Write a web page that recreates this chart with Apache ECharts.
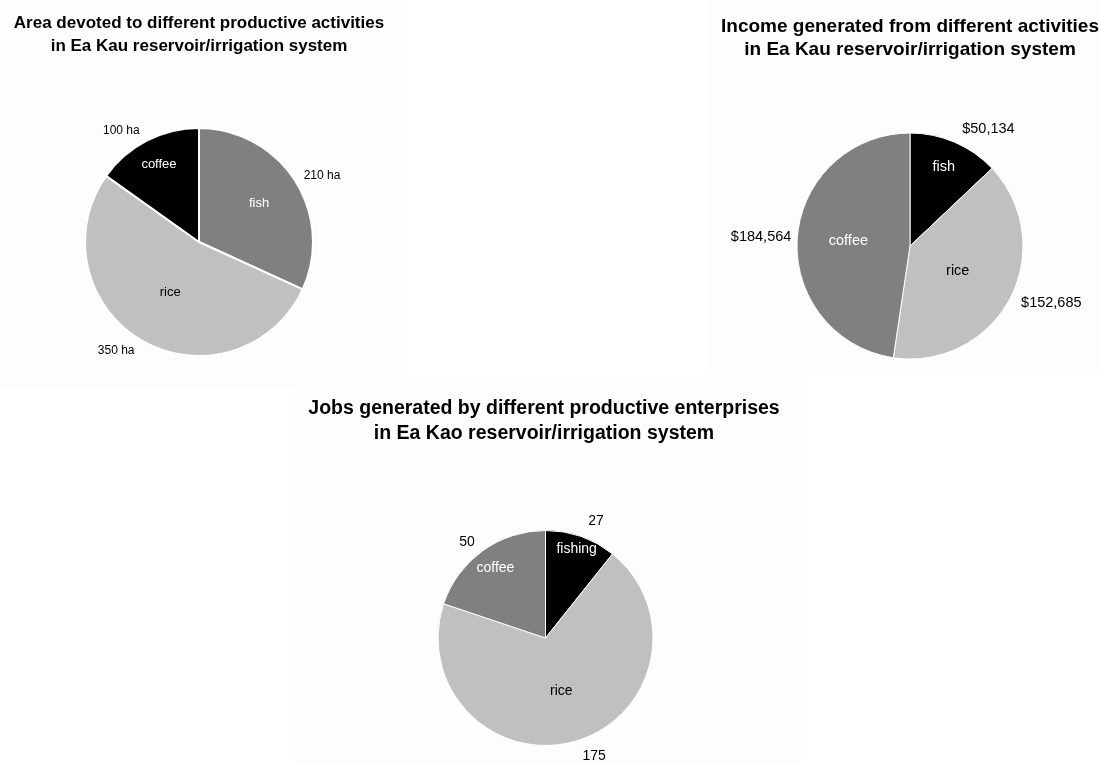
<!DOCTYPE html>
<html>
<head>
<meta charset="utf-8">
<script src="https://cdn.jsdelivr.net/npm/echarts@6/dist/echarts.min.js"></script>
<style>
  html, body { margin: 0; padding: 0; background: #fff; }
  #chart { width: 1099px; height: 764px; }
</style>
</head>
<body>
<div id="chart"></div>
<script>
// Area under each activity (hectares)
const areaCategories = ['fish', 'rice', 'coffee'];
const areaValues = [210, 350, 100];

// Income from each activity (US$)
const incomeCategories = ['fish', 'rice', 'coffee'];
const incomeValues = [50134, 152685, 184564];

// Jobs generated by each enterprise
const jobsCategories = ['fishing', 'rice', 'coffee'];
const jobsValues = [27, 175, 50];

// Slice fills and inner text colours per panel
const areaColors = ['#808080', '#c0c0c0', '#000000'];
const incomeColors = ['#000000', '#c0c0c0', '#808080'];
const jobsColors = ['#000000', '#c0c0c0', '#808080'];
const areaInnerText = ['#ffffff', '#000000', '#ffffff'];
const incomeInnerText = ['#ffffff', '#000000', '#ffffff'];
const jobsInnerText = ['#ffffff', '#000000', '#ffffff'];

// Label placement: gap between rim and value label, and how far out (share of radius) each name sits
const areaLabelGap = [8, 11, 11];
const incomeLabelGap = [14, 10, 4];
const jobsLabelGap = [16, 16, 10];
const areaNameDepth = [0.6, 0.48, 0.74];
const incomeNameDepth = [0.73, 0.45, 0.52];
const jobsNameDepth = [0.85, 0.49, 0.77];

const FONT = '"Liberation Sans", Arial, sans-serif';

// Main pie with outside value labels
function valuePie(names, values, colors, gaps, center, radius, border, fmt, fontSize) {
  return {
    type: 'pie',
    center: center,
    radius: [0, radius],
    startAngle: 90,
    clockwise: true,
    avoidLabelOverlap: false,
    silent: true,
    data: names.map((n, i) => ({
      name: n,
      value: values[i],
      itemStyle: { color: colors[i] },
      labelLine: { show: false, length: gaps[i], length2: 0 }
    })),
    itemStyle: { borderColor: '#ffffff', borderWidth: border },
    label: {
      show: true,
      position: 'outside',
      formatter: p => fmt(p.value),
      color: '#000',
      fontFamily: FONT,
      fontSize: fontSize,
      distanceToLabelLine: 2
    },
    labelLine: { show: false, length: 10, length2: 0 },
    emphasis: { disabled: true }
  };
}

// Transparent overlay pies carrying the category names inside the slices;
// one overlay per slice so each name can sit at its own depth
function namePies(names, values, textColors, depths, center, radius, fontSize) {
  return names.map((_, k) => ({
    type: 'pie',
    center: center,
    radius: [0, 2 * depths[k] * radius],
    startAngle: 90,
    clockwise: true,
    silent: true,
    z: 3,
    data: names.map((n, i) => ({
      name: n,
      value: values[i],
      label: { show: i === k, color: textColors[i] }
    })),
    itemStyle: { color: 'rgba(0,0,0,0)', borderWidth: 0 },
    label: {
      position: 'inside',
      formatter: '{b}',
      fontFamily: FONT,
      fontSize: fontSize
    },
    labelLine: { show: false },
    emphasis: { disabled: true }
  }));
}

const chart = echarts.init(document.getElementById('chart'), null, { renderer: 'canvas' });

const titleStyle = (size, lh) => ({ fontFamily: FONT, fontSize: size, fontWeight: 'bold', color: '#000', lineHeight: lh });

const option = {
  backgroundColor: '#ffffff',
  animation: false,
  graphic: [
    { type: 'rect', z: -10, shape: { x: 0, y: 0, width: 408, height: 388 }, style: { fill: '#fdfdfd' } },
    { type: 'rect', z: -10, shape: { x: 707, y: 0, width: 392, height: 370 }, style: { fill: '#fdfdfd' } },
    { type: 'rect', z: -10, shape: { x: 295, y: 378, width: 506, height: 386 }, style: { fill: '#fdfdfd' } }
  ],
  title: [
    {
      text: 'Area devoted to different productive activities\nin Ea Kau reservoir/irrigation system',
      left: 194, top: 7, textAlign: 'center', textStyle: titleStyle(17, 23)
    },
    {
      text: 'Income generated from different activities\nin Ea Kau reservoir/irrigation system',
      left: 905, top: 10, textAlign: 'center', textStyle: titleStyle(19, 23.5)
    },
    {
      text: 'Jobs generated by different productive enterprises\nin Ea Kao reservoir/irrigation system',
      left: 539, top: 391, textAlign: 'center', textStyle: titleStyle(19.5, 25)
    }
  ],
  series: [
    valuePie(areaCategories, areaValues, areaColors, areaLabelGap, [199, 242], 114, 2, v => v + ' ha', 12),
    ...namePies(areaCategories, areaValues, areaInnerText, areaNameDepth, [199, 242], 114, 13),

    valuePie(incomeCategories, incomeValues, incomeColors, incomeLabelGap, [910, 246], 113, 1,
      v => '$' + v.toLocaleString('en-US'), 14.5),
    ...namePies(incomeCategories, incomeValues, incomeInnerText, incomeNameDepth, [910, 246], 113, 14.5),

    valuePie(jobsCategories, jobsValues, jobsColors, jobsLabelGap, [545.5, 638], 107.5, 1, v => String(v), 14),
    ...namePies(jobsCategories, jobsValues, jobsInnerText, jobsNameDepth, [545.5, 638], 107.5, 14)
  ]
};

chart.setOption(option);
</script>
</body>
</html>
